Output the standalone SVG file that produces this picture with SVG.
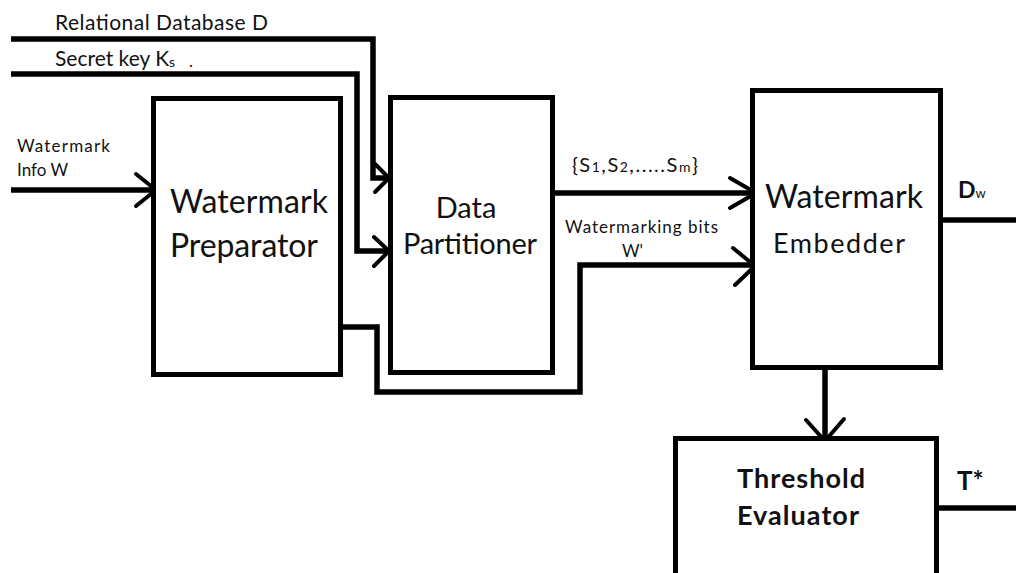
<svg xmlns="http://www.w3.org/2000/svg" width="1016" height="573" viewBox="0 0 1016 573">
  <style>
    .box { fill: #fff; stroke: #000; stroke-width: 5; }
    .wire { fill: none; stroke: #000; stroke-width: 5.5; stroke-linejoin: miter; }
    .head { fill: none; stroke: #000; stroke-width: 4; stroke-linecap: round; stroke-linejoin: round; }
    text { font-family: Lato, "Open Sans", "Liberation Sans", sans-serif; fill: #111; }
    .big { font-size: 32px; }
    .mid { font-size: 29px; }
    .lbl { font-size: 21px; }
    .sm { font-size: 17px; }
    .bold { font-weight: bold; }
  </style>
  <rect width="1016" height="573" fill="#fff"/>

  <!-- connectors -->
  <g id="connectors">
    <polyline class="wire" points="11,39 373,39 373,178 387,178"/>
    <polyline class="head" points="375,164 389,178 375,192"/>

    <polyline class="wire" points="11,74 357,74 357,251 387,251"/>
    <polyline class="head" points="374,237 389,251 374,266"/>

    <polyline class="wire" points="11,190 154,190"/>
    <polyline class="head" points="136,174 156,190 136,206"/>

    <polyline class="wire" points="343,327 377,327 377,392 580,392 580,265 752,265"/>
    <polyline class="head" points="733,248 755,266 735,285"/>

    <polyline class="wire" points="555,193 752,193"/>
    <polyline class="head" points="730,178 756,193 730,208"/>

    <polyline class="wire" points="825,370 825,439"/>
    <polyline class="head" points="806,420 825,441 844,419"/>

    <polyline class="wire" points="943,220 1016,220"/>
    <polyline class="wire" points="939,508 1016,508"/>
  </g>

  <!-- input labels -->
  <g id="inputs">
    <text class="lbl" x="55" y="30" textLength="213">Relational Database D</text>
    <text class="lbl" x="55" y="66">Secret key K<tspan font-size="14" dy="1">s</tspan></text>
    <text class="sm" x="189" y="67">.</text>
    <text class="sm" x="17" y="152" textLength="93">Watermark</text>
    <text class="sm" x="17" y="176">Info W</text>
  </g>

  <g id="preparator">
    <rect class="box" x="153.5" y="98.5" width="187" height="276"/>
    <text class="big" x="170" y="213" textLength="158">Watermark</text>
    <text class="big" x="170" y="257" textLength="148">Preparator</text>
  </g>

  <g id="partitioner">
    <rect class="box" x="390.5" y="97.5" width="162" height="275"/>
    <text class="mid" x="466" y="218" text-anchor="middle">Data</text>
    <text class="mid" x="403" y="254" textLength="134">Partitioner</text>
  </g>

  <g id="edge-labels">
    <text x="572" y="172" font-size="20" textLength="126">{S<tspan font-size="14">1</tspan>,S<tspan font-size="14">2</tspan>,.....S<tspan font-size="14">m</tspan>}</text>
    <text class="sm" x="565" y="233" textLength="153">Watermarking bits</text>
    <text class="sm" x="622" y="257">W'</text>
  </g>

  <g id="embedder">
    <rect class="box" x="752.5" y="90.5" width="188" height="277"/>
    <text class="big" x="765" y="208" textLength="158">Watermark</text>
    <text x="773" y="253" font-size="27" textLength="132">Embedder</text>
    <text class="bold" x="958" y="198" font-size="23">D<tspan font-size="13" font-weight="normal">w</tspan></text>
  </g>

  <g id="threshold">
    <rect class="box" x="675.5" y="438.5" width="261" height="200"/>
    <text class="bold" x="737" y="488" font-size="27" textLength="128">Threshold</text>
    <text class="bold" x="737" y="525" font-size="27" textLength="122">Evaluator</text>
    <text class="bold" x="957" y="490" font-size="26">T*</text>
  </g>
</svg>
